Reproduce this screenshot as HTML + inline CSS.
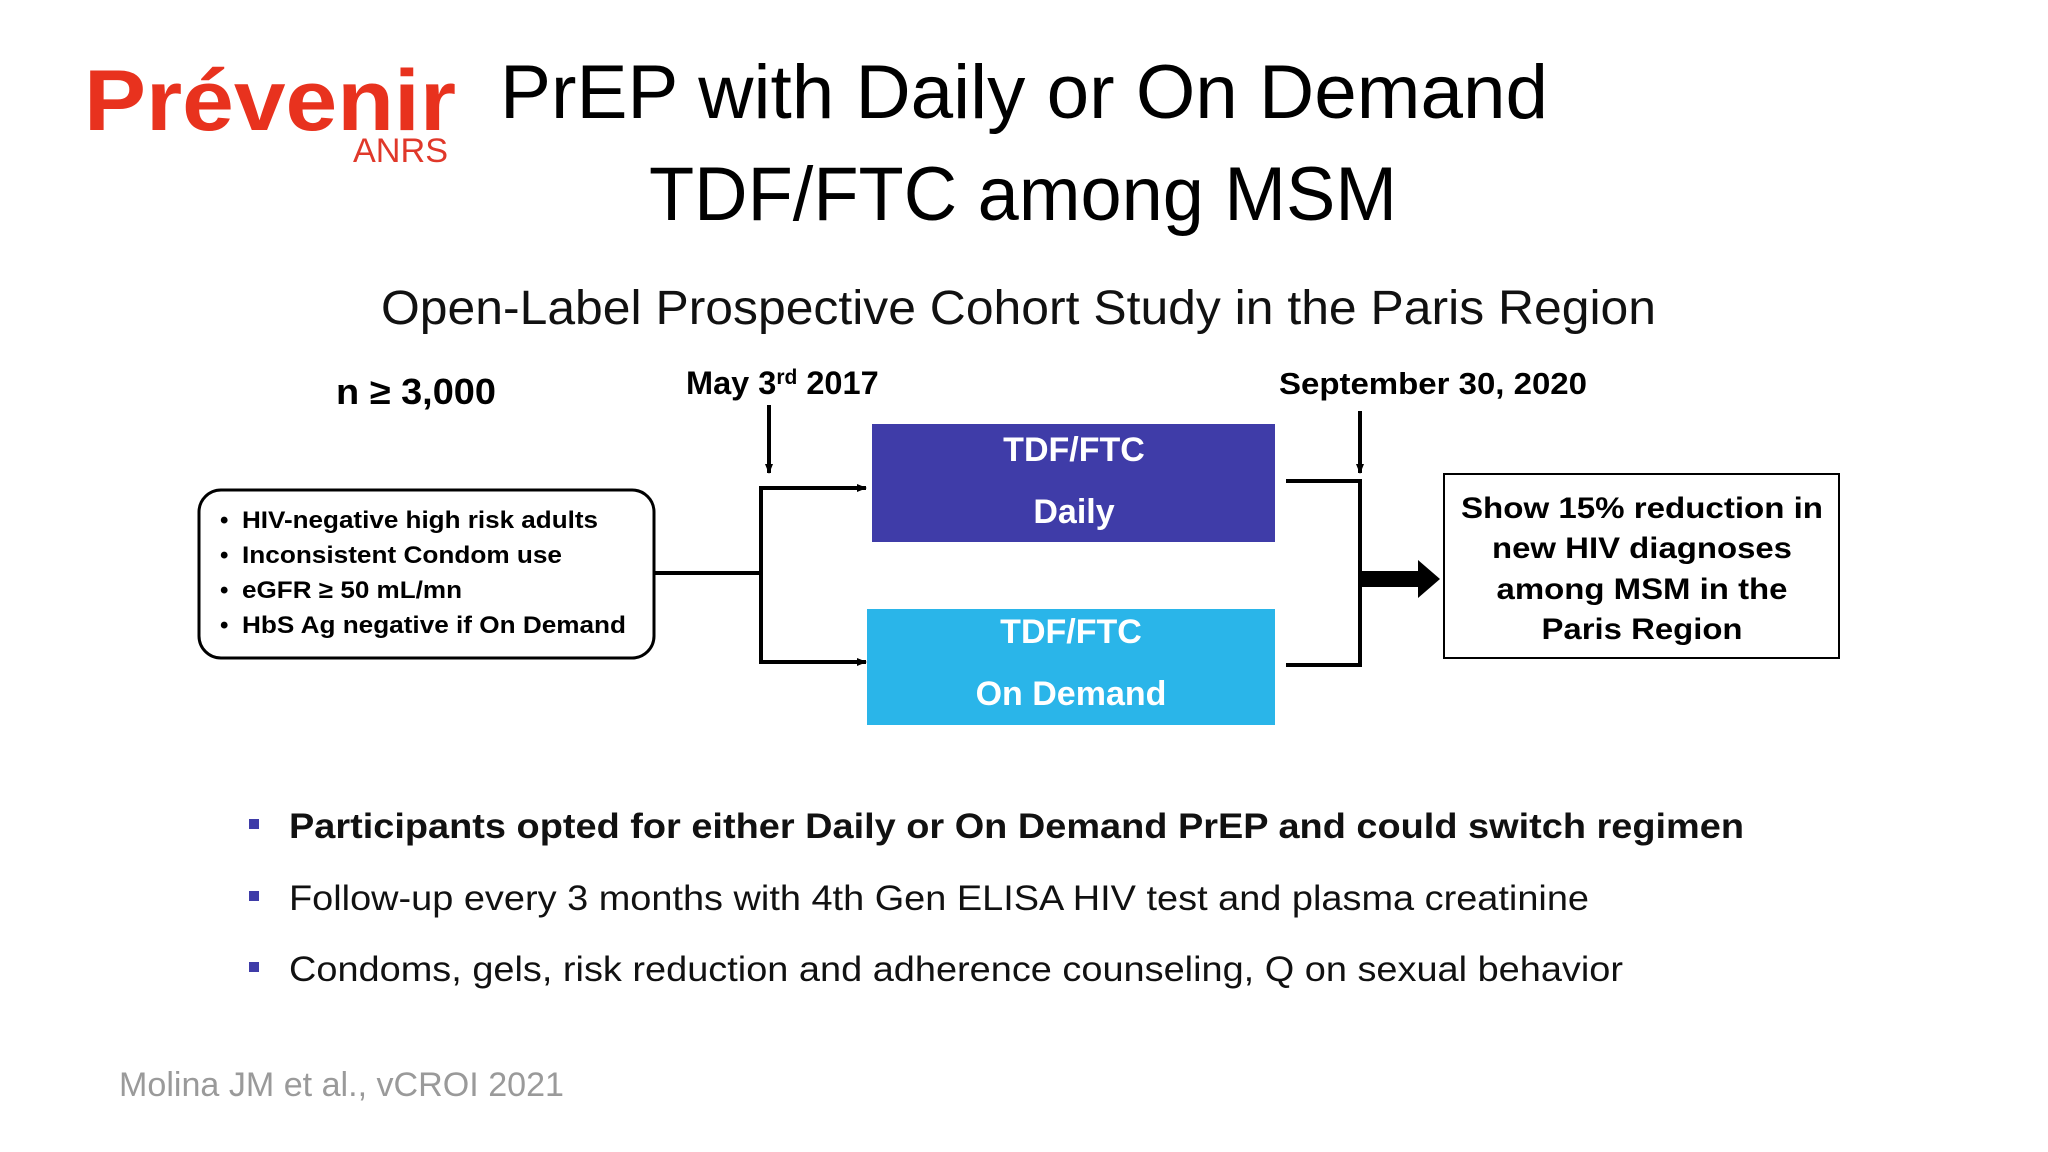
<!DOCTYPE html>
<html><head><meta charset="utf-8"><style>
html,body{margin:0;padding:0;background:#fff}
svg{display:block}
text{font-family:"Liberation Sans",sans-serif}
</style></head><body>
<svg width="2048" height="1152" viewBox="0 0 2048 1152" xmlns="http://www.w3.org/2000/svg">
<defs>
<marker id="ah" markerWidth="10" markerHeight="10" refX="9" refY="5" orient="auto" markerUnits="userSpaceOnUse"><path d="M0,1 L10,5 L0,9 Z" fill="#000"/></marker>
</defs>
<rect width="2048" height="1152" fill="#fff"/>
<g>
<text x="84" y="130" font-size="86" font-weight="bold" fill="#e8321e" textLength="372" lengthAdjust="spacingAndGlyphs">Prévenir</text>
<text x="353" y="162" font-size="34" fill="#e0382a" textLength="95" lengthAdjust="spacingAndGlyphs">ANRS</text>
</g>
<text x="500" y="118" font-size="76" fill="#000" textLength="1048" lengthAdjust="spacingAndGlyphs">PrEP with Daily or On Demand</text>
<text x="649" y="220" font-size="76" fill="#000" textLength="748" lengthAdjust="spacingAndGlyphs">TDF/FTC among MSM</text>
<text x="381" y="324" font-size="48" fill="#111" textLength="1275" lengthAdjust="spacingAndGlyphs">Open-Label Prospective Cohort Study in the Paris Region</text>
<g>
<text x="336" y="404" font-size="36" font-weight="bold" fill="#000" textLength="160" lengthAdjust="spacingAndGlyphs">n ≥ 3,000</text>
</g>
<text x="686" y="394" font-size="32.5" font-weight="bold" fill="#000">May 3<tspan font-size="21" dy="-10">rd</tspan><tspan dy="10"> 2017</tspan></text>
<text x="1279" y="394" font-size="31" font-weight="bold" fill="#000" textLength="308" lengthAdjust="spacingAndGlyphs">September 30, 2020</text>
<g stroke="#000" stroke-width="4" fill="none">
<line x1="769" y1="405" x2="769" y2="473" marker-end="url(#ah)"/>
<line x1="1360" y1="411" x2="1360" y2="473" marker-end="url(#ah)"/>
<line x1="654" y1="573" x2="761" y2="573"/>
<polyline points="866,488 761,488 761,662 866,662" stroke-width="4"/>
<line x1="761" y1="488" x2="866" y2="488" marker-end="url(#ah)"/>
<line x1="761" y1="662" x2="866" y2="662" marker-end="url(#ah)"/>
<polyline points="1286,481 1360,481 1360,665 1286,665"/>
</g>
<path d="M1360,571 L1418,571 L1418,560 L1440,579 L1418,598 L1418,587 L1360,587 Z" fill="#000"/>
<g>
<rect x="199" y="490" width="455" height="168" rx="22" fill="#fff" stroke="#000" stroke-width="3"/>
<g font-size="24" font-weight="bold" fill="#000">
<text x="220" y="528">•</text><text x="242" y="528" textLength="356" lengthAdjust="spacingAndGlyphs">HIV-negative high risk adults</text>
<text x="220" y="563">•</text><text x="242" y="563" textLength="320" lengthAdjust="spacingAndGlyphs">Inconsistent Condom use</text>
<text x="220" y="598">•</text><text x="242" y="598" textLength="220" lengthAdjust="spacingAndGlyphs">eGFR ≥ 50 mL/mn</text>
<text x="220" y="633">•</text><text x="242" y="633" textLength="384" lengthAdjust="spacingAndGlyphs">HbS Ag negative if On Demand</text>
</g>
</g>
<g>
<rect x="872" y="424" width="403" height="118" fill="#3f3ca8"/>
<text x="1074" y="461" font-size="34" font-weight="bold" fill="#fff" text-anchor="middle">TDF/FTC</text>
<text x="1074" y="523" font-size="34" font-weight="bold" fill="#fff" text-anchor="middle">Daily</text>
</g>
<g>
<rect x="867" y="609" width="408" height="116" fill="#2ab5e9"/>
<text x="1071" y="643" font-size="34" font-weight="bold" fill="#fff" text-anchor="middle">TDF/FTC</text>
<text x="1071" y="705" font-size="34" font-weight="bold" fill="#fff" text-anchor="middle">On Demand</text>
</g>
<g>
<rect x="1444" y="474" width="395" height="184" fill="#fff" stroke="#000" stroke-width="2"/>
<g font-size="30" font-weight="bold" fill="#000" text-anchor="middle">
<text x="1642" y="518" textLength="362" lengthAdjust="spacingAndGlyphs">Show 15% reduction in</text>
<text x="1642" y="558" textLength="300" lengthAdjust="spacingAndGlyphs">new HIV diagnoses</text>
<text x="1642" y="599" textLength="291" lengthAdjust="spacingAndGlyphs">among MSM in the</text>
<text x="1642" y="639" textLength="201" lengthAdjust="spacingAndGlyphs">Paris Region</text>
</g>
</g>
<g>
<rect x="249" y="819" width="10" height="10" fill="#3f3ca8"/>
<text x="289" y="838" font-size="35" font-weight="bold" fill="#111" textLength="1455" lengthAdjust="spacingAndGlyphs">Participants opted for either Daily or On Demand PrEP and could switch regimen</text>
<rect x="249" y="891" width="10" height="10" fill="#3f3ca8"/>
<text x="289" y="910" font-size="35" fill="#111" textLength="1300" lengthAdjust="spacingAndGlyphs">Follow-up every 3 months with 4th Gen ELISA HIV test and plasma creatinine</text>
<rect x="249" y="962" width="10" height="10" fill="#3f3ca8"/>
<text x="289" y="981" font-size="35" fill="#111" textLength="1334" lengthAdjust="spacingAndGlyphs">Condoms, gels, risk reduction and adherence counseling, Q on sexual behavior</text>
</g>
<text x="119" y="1096" font-size="34" fill="#9a9a9a" textLength="445" lengthAdjust="spacingAndGlyphs">Molina JM et al., vCROI 2021</text>
</svg>
</body></html>
